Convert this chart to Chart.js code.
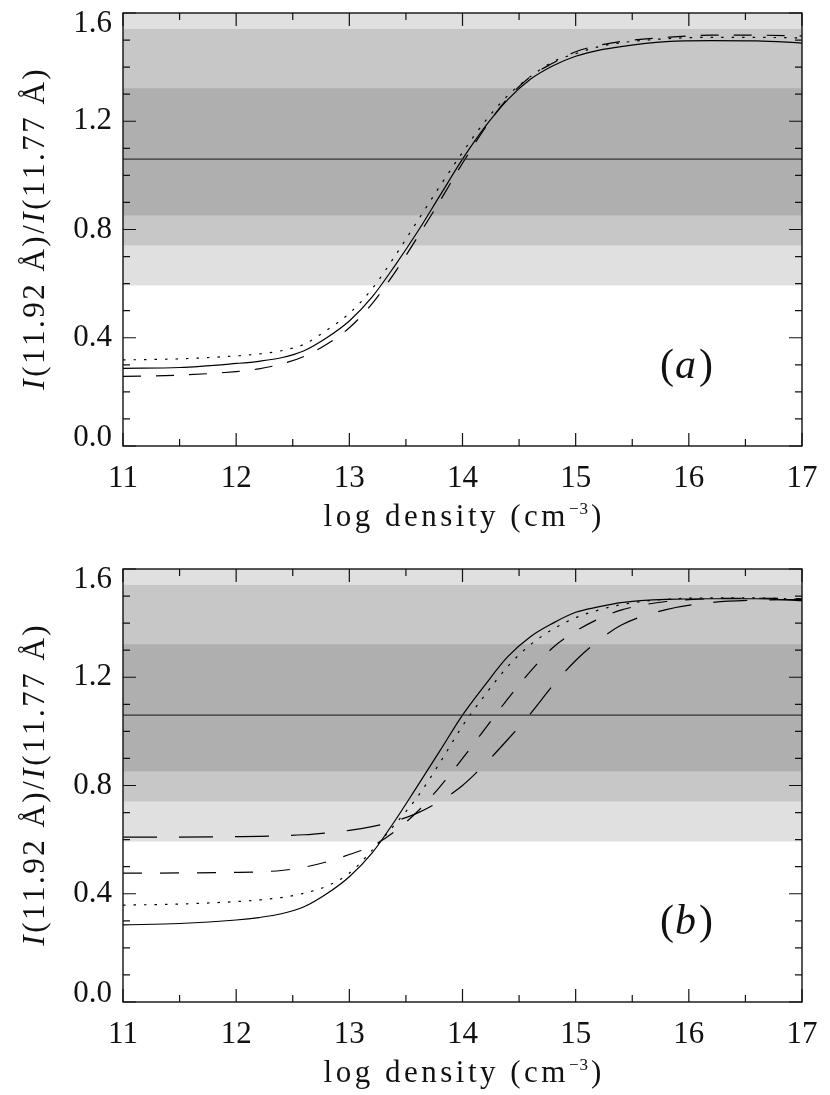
<!DOCTYPE html>
<html>
<head>
<meta charset="utf-8">
<script src="https://cdn.jsdelivr.net/npm/chart.js@4.4.1/dist/chart.umd.min.js"></script>
<style>
  html, body { margin: 0; padding: 0; background: #fff; }
  #wrap { position: relative; width: 830px; height: 1095px; }
  canvas { position: absolute; left: 0; }
  #panel-a { top: 0; }
  #panel-b { top: 556px; }
</style>
</head>
<body>
<div id="wrap">
  <canvas id="panel-a" width="830" height="539"></canvas>
  <canvas id="panel-b" width="830" height="539"></canvas>
</div>
<script>
// log density grid (cm^-3)
const densityX = [11, 11.5, 12, 12.2, 12.4, 12.6, 12.8, 13.0, 13.2, 13.4, 13.6, 13.8, 14.0, 14.2, 14.4, 14.6, 14.8, 15.0, 15.2, 15.4, 15.8, 16.2, 16.6, 17.0];

// panel (a) line ratios
const ratioA_solid  = [0.287, 0.290, 0.305, 0.313, 0.326, 0.352, 0.400, 0.462, 0.550, 0.665, 0.790, 0.925, 1.060, 1.180, 1.280, 1.355, 1.405, 1.440, 1.462, 1.476, 1.494, 1.498, 1.497, 1.489];
const ratioA_dotted = [0.318, 0.322, 0.333, 0.340, 0.352, 0.376, 0.428, 0.490, 0.580, 0.700, 0.830, 0.960, 1.085, 1.200, 1.295, 1.365, 1.420, 1.450, 1.475, 1.490, 1.505, 1.510, 1.510, 1.508];
const ratioA_dashed = [0.257, 0.262, 0.275, 0.285, 0.303, 0.331, 0.376, 0.437, 0.525, 0.640, 0.770, 0.905, 1.045, 1.175, 1.285, 1.365, 1.415, 1.457, 1.480, 1.495, 1.510, 1.518, 1.518, 1.515];

// panel (b) line ratios
const ratioB_solid  = [0.285, 0.290, 0.303, 0.312, 0.326, 0.352, 0.400, 0.463, 0.550, 0.668, 0.797, 0.928, 1.060, 1.172, 1.276, 1.350, 1.400, 1.440, 1.460, 1.476, 1.488, 1.490, 1.490, 1.483];
const ratioB_dotted = [0.358, 0.362, 0.371, 0.377, 0.386, 0.402, 0.428, 0.476, 0.560, 0.655, 0.757, 0.884, 1.020, 1.135, 1.240, 1.320, 1.378, 1.420, 1.448, 1.468, 1.488, 1.493, 1.493, 1.488];
const ratioB_dashed = [0.476, 0.477, 0.479, 0.481, 0.486, 0.498, 0.518, 0.545, 0.576, 0.630, 0.703, 0.795, 0.900, 1.010, 1.120, 1.222, 1.310, 1.370, 1.415, 1.448, 1.480, 1.490, 1.492, 1.490];
const ratioB_long   = [0.609, 0.609, 0.611, 0.612, 0.614, 0.618, 0.625, 0.634, 0.648, 0.668, 0.698, 0.742, 0.800, 0.880, 0.970, 1.065, 1.170, 1.262, 1.335, 1.392, 1.450, 1.476, 1.485, 1.487];

// observed ratio and its uncertainty bands (outer to inner)
const measuredRatio = 1.06;
const bandLower = [0.593, 0.741, 0.852];
const bandUpper = [1.60, 1.541, 1.322];

// axes
const xTickValues = [11, 12, 13, 14, 15, 16, 17];
const xTickLabels = ['11', '12', '13', '14', '15', '16', '17'];
const xMinorValues = [11.5, 12.5, 13.5, 14.5, 15.5, 16.5];
const yTickValues = [0, 0.4, 0.8, 1.2, 1.6];
const yTickLabels = ['0.0', '0.4', '0.8', '1.2', '1.6'];
const yMinorValues = [0.1, 0.2, 0.3, 0.5, 0.6, 0.7, 0.9, 1.0, 1.1, 1.3, 1.4, 1.5];

const SERIF = '"Liberation Serif", "Times New Roman", serif';
const INK = '#111';
const BAND_COLORS = ['#e0e0e0', '#c7c7c7', '#afafaf'];
const DASH = { solid: [], dotted: [2.5, 8], dashed: [18, 15], medium: [19, 18], long: [34, 22] };

function series(values, dash) {
  return {
    data: densityX.map((x, i) => ({ x: x, y: values[i] })),
    borderColor: '#000',
    borderWidth: 1.2,
    borderDash: dash,
    pointRadius: 0,
    fill: false,
    cubicInterpolationMode: 'monotone'
  };
}

function refLine() {
  return {
    data: [{ x: densityX[0], y: measuredRatio }, { x: densityX[densityX.length - 1], y: measuredRatio }],
    borderColor: '#333',
    borderWidth: 1.3,
    pointRadius: 0,
    fill: false
  };
}

// draw text char by char with extra letter spacing
function spacedWidth(ctx, text, sp) {
  let w = 0;
  for (const ch of text) w += ctx.measureText(ch).width + sp;
  return w - sp;
}
function drawSpaced(ctx, text, x, y, sp) {
  for (const ch of text) {
    ctx.fillText(ch, x, y);
    x += ctx.measureText(ch).width + sp;
  }
  return x;
}

function decor(letter) {
  return {
    id: 'decor',
    beforeDatasetsDraw(chart) {
      const { ctx, chartArea: a, scales: { y } } = chart;
      ctx.save();
      bandLower.forEach((lo, i) => {
        const t = y.getPixelForValue(Math.min(bandUpper[i], y.max));
        const b = y.getPixelForValue(lo);
        ctx.fillStyle = BAND_COLORS[i];
        ctx.fillRect(a.left, t, a.right - a.left, b - t);
      });
      ctx.restore();
    },
    afterDatasetsDraw(chart) {
      const { ctx, chartArea: a, scales: { x, y } } = chart;
      ctx.save();
      ctx.strokeStyle = INK;
      ctx.lineWidth = 1.4;
      ctx.strokeRect(a.left, a.top, a.right - a.left, a.bottom - a.top);

      // inward ticks on all four sides
      ctx.lineWidth = 1.2;
      ctx.beginPath();
      const xt = (v, len) => {
        const p = x.getPixelForValue(v);
        ctx.moveTo(p, a.bottom); ctx.lineTo(p, a.bottom - len);
        ctx.moveTo(p, a.top); ctx.lineTo(p, a.top + len);
      };
      const yt = (v, len) => {
        const p = y.getPixelForValue(v);
        ctx.moveTo(a.left, p); ctx.lineTo(a.left + len, p);
        ctx.moveTo(a.right, p); ctx.lineTo(a.right - len, p);
      };
      xTickValues.forEach(v => xt(v, 13));
      xMinorValues.forEach(v => xt(v, 7));
      yTickValues.forEach(v => yt(v, 13));
      yMinorValues.forEach(v => yt(v, 7));
      ctx.stroke();

      // y tick labels; the end labels are nudged inside the axis range
      ctx.fillStyle = INK;
      ctx.font = '31px ' + SERIF;
      ctx.textAlign = 'right';
      ctx.textBaseline = 'middle';
      yTickValues.forEach((v, i) => {
        let p = y.getPixelForValue(v);
        if (v === y.max) p += 11;
        if (v === y.min) p -= 8;
        ctx.fillText(yTickLabels[i], a.left - 11, p);
      });
      ctx.textAlign = 'left';

      // panel letter
      const cx = x.getPixelForValue(15.98);
      const base = y.getPixelForValue(0.29) + 10;
      ctx.textBaseline = 'alphabetic';
      ctx.font = '42px ' + SERIF;
      const wp = ctx.measureText('(').width, wq = ctx.measureText(')').width;
      ctx.font = 'italic 42px ' + SERIF;
      const wl = ctx.measureText(letter).width;
      let px = cx - (wp + wl + wq + 4) / 2;
      ctx.font = '42px ' + SERIF;
      ctx.fillText('(', px, base); px += wp + 1;
      ctx.font = 'italic 42px ' + SERIF;
      ctx.fillText(letter, px, base); px += wl + 3;
      ctx.font = '42px ' + SERIF;
      ctx.fillText(')', px, base);
      ctx.restore();
    },
    afterDraw(chart) {
      const { ctx, chartArea: a } = chart;
      ctx.save();
      ctx.fillStyle = INK;
      ctx.textBaseline = 'alphabetic';

      // x title with superscript
      const sp = 3.5;
      ctx.font = '31px ' + SERIF;
      const main = 'log density (cm';
      const wMain = spacedWidth(ctx, main, sp);
      const wClose = ctx.measureText(')').width;
      ctx.font = '17px ' + SERIF;
      const wSup = spacedWidth(ctx, '\u22123', 1);
      const total = wMain + sp + wSup + 3 + wClose;
      let tx = (a.left + a.right) / 2 - total / 2;
      const ty = a.bottom + 80;
      ctx.font = '31px ' + SERIF;
      tx = drawSpaced(ctx, main, tx, ty, sp);
      ctx.font = '17px ' + SERIF;
      tx = drawSpaced(ctx, '\u22123', tx, ty - 12, 1) + 2;
      ctx.font = '31px ' + SERIF;
      ctx.fillText(')', tx, ty);

      // y title, rotated, italic I
      const ysp = 2.5;
      const parts = [['italic', 'I'], ['normal', '(11.92 \u00c5)/'], ['italic', 'I'], ['normal', '(11.77 \u00c5)']];
      let w = 0;
      parts.forEach(([st, t]) => { ctx.font = st + ' 31px ' + SERIF; w += spacedWidth(ctx, t, ysp) + ysp; });
      w -= ysp;
      ctx.translate(44, (a.top + a.bottom) / 2);
      ctx.rotate(-Math.PI / 2);
      let ry = -w / 2;
      parts.forEach(([st, t]) => { ctx.font = st + ' 31px ' + SERIF; ry = drawSpaced(ctx, t, ry, 0, ysp); });
      ctx.restore();
    }
  };
}

function makePanel(id, letter, datasets) {
  return new Chart(document.getElementById(id), {
    type: 'line',
    data: { datasets: datasets },
    options: {
      responsive: false,
      animation: false,
      devicePixelRatio: 1,
      layout: { padding: { top: 13, right: 28, left: 0, bottom: 0 } },
      plugins: { legend: { display: false }, tooltip: { enabled: false } },
      scales: {
        x: {
          type: 'linear',
          min: 11, max: 17,
          grid: { display: false, drawTicks: false },
          border: { display: false },
          afterBuildTicks: s => { s.ticks = xTickValues.map(v => ({ value: v })); },
          afterFit: s => { s.height = 93; s.paddingLeft = 0; s.paddingRight = 0; },
          ticks: {
            autoSkip: false, maxRotation: 0, padding: 14, color: INK,
            font: { family: SERIF, size: 31, lineHeight: 1.2 },
            callback: (v, i) => xTickLabels[i]
          }
        },
        y: {
          type: 'linear',
          min: 0, max: 1.6,
          grid: { display: false, drawTicks: false },
          border: { display: false },
          afterBuildTicks: s => { s.ticks = yTickValues.map(v => ({ value: v })); },
          afterFit: s => { s.width = 123; s.paddingTop = 0; s.paddingBottom = 0; },
          ticks: { display: false }
        }
      }
    },
    plugins: [decor(letter)]
  });
}

makePanel('panel-a', 'a', [
  refLine(),
  series(ratioA_solid, DASH.solid),
  series(ratioA_dotted, DASH.dotted),
  series(ratioA_dashed, DASH.dashed)
]);

makePanel('panel-b', 'b', [
  refLine(),
  series(ratioB_solid, DASH.solid),
  series(ratioB_dotted, DASH.dotted),
  series(ratioB_dashed, DASH.medium),
  series(ratioB_long, DASH.long)
]);
</script>
</body>
</html>
